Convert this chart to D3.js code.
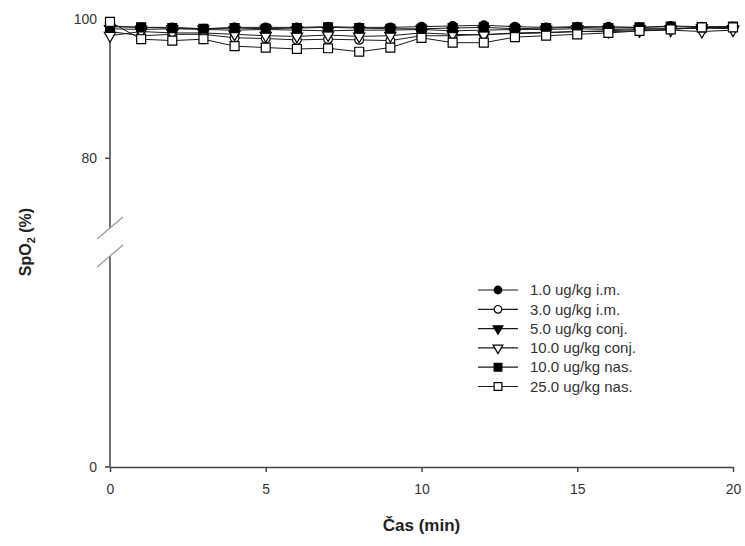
<!DOCTYPE html>
<html>
<head>
<meta charset="utf-8">
<script src="https://cdn.jsdelivr.net/npm/d3@7"></script>
<style>
  body { margin: 0; background: #fff; }
  svg { font-family: "Liberation Sans", Arial, sans-serif; }
</style>
</head>
<body>
<svg id="drawing_region"></svg>
<script>
// minutes
const times = d3.range(0, 21);

const seriesNames = ["1.0 ug/kg i.m.", "3.0 ug/kg i.m.", "5.0 ug/kg conj.",
                     "10.0 ug/kg conj.", "10.0 ug/kg nas.", "25.0 ug/kg nas."];

const im1    = [99.0, 98.8, 98.8, 98.6, 98.8, 98.8, 98.8, 98.9, 98.8, 98.8, 98.9, 99.0, 99.1, 98.9, 98.8, 98.9, 98.9, 98.8, 99.0, 98.9, 98.9];
const im3    = [98.2, 97.6, 97.8, 97.8, 97.3, 97.2, 97.0, 97.1, 97.0, 96.9, 97.6, 97.6, 97.8, 97.9, 98.0, 98.2, 98.3, 98.5, 98.6, 98.7, 98.8];
const conj5  = [98.6, 98.5, 98.6, 98.5, 98.4, 98.5, 98.4, 98.3, 98.4, 98.4, 98.5, 98.3, 98.4, 98.5, 98.5, 98.6, 98.5, 98.6, 98.6, 98.7, 98.6];
const conj10 = [97.6, 98.2, 98.0, 98.0, 97.8, 97.6, 97.5, 97.7, 97.5, 97.6, 98.0, 97.8, 97.7, 98.0, 98.1, 98.2, 98.2, 98.3, 98.4, 98.2, 98.4];
const nas10  = [98.9, 98.8, 98.7, 98.6, 98.7, 98.6, 98.7, 98.8, 98.7, 98.6, 98.6, 98.7, 98.8, 98.6, 98.7, 98.8, 98.7, 98.8, 98.9, 98.8, 98.9];
const nas25  = [99.6, 97.1, 96.9, 97.1, 96.1, 95.9, 95.7, 95.8, 95.3, 95.9, 97.3, 96.6, 96.6, 97.4, 97.6, 97.8, 98.0, 98.3, 98.5, 98.8, 98.8];

const xTicks = [0, 5, 10, 15, 20];
const yTicks = [0, 80, 100];

const seriesValues = [im1, im3, conj5, conj10, nas10, nas25];
const markers = [
    {shape: d3.symbolCircle,   fill: "#000", rot: 0},
    {shape: d3.symbolCircle,   fill: "#fff", rot: 0},
    {shape: d3.symbolTriangle, fill: "#000", rot: 180},
    {shape: d3.symbolTriangle, fill: "#fff", rot: 180},
    {shape: d3.symbolSquare,   fill: "#000", rot: 0},
    {shape: d3.symbolSquare,   fill: "#fff", rot: 0}
];
const symSize = [60, 60, 55, 55, 80, 80];
const legSize = [45, 45, 42, 42, 60, 60];

const width = 745, height = 546;
const svg = d3.select('#drawing_region')
    .attr('width', width)
    .attr('height', height);

const x0 = 110, x1 = 733;
const yBottom = 467, yTop = 19;
const lowTop = 256, highBottom = 228;   // broken axis ends

const xscale = d3.scaleLinear().domain([0, 20]).range([x0, x1]);
// broken scale: 0..50 lower part, 70..100 upper part
const yscale = d3.scaleLinear()
    .domain([0, 50, 70, 100])
    .range([yBottom, lowTop, highBottom, yTop]);

const axisColor = "#444";
const textColor = "#333";

// x axis
const xaxis = d3.axisBottom(xscale).tickValues(xTicks).tickSize(5).tickPadding(12).tickSizeOuter(0);
const xg = svg.append('g')
    .attr('transform', `translate(0, ${yBottom})`)
    .call(xaxis);
xg.select('.domain').attr('stroke', axisColor).attr('stroke-width', 1.5);
xg.selectAll('.tick line').attr('stroke', axisColor).attr('stroke-width', 1.5);
xg.selectAll('.tick text').attr('fill', textColor).attr('font-size', 14)
    .attr('font-family', '"Liberation Sans", Arial, sans-serif');

// y axis, drawn in two pieces
const yg = svg.append('g').attr('transform', `translate(${x0}, 0)`);
yg.append('line').attr('x1', 0).attr('x2', 0).attr('y1', yTop).attr('y2', highBottom)
    .attr('stroke', axisColor).attr('stroke-width', 1.5);
yg.append('line').attr('x1', 0).attr('x2', 0).attr('y1', lowTop).attr('y2', yBottom)
    .attr('stroke', axisColor).attr('stroke-width', 1.5);
const ytick = yg.selectAll('.ytick').data(yTicks).enter().append('g')
    .attr('transform', d => `translate(0, ${yscale(d)})`);
ytick.append('line').attr('x1', -5).attr('x2', 0)
    .attr('stroke', axisColor).attr('stroke-width', 1.5);
ytick.append('text')
    .attr('x', -13).attr('dy', '0.35em')
    .attr('text-anchor', 'end')
    .attr('font-size', 14).attr('fill', textColor)
    .text(d => d);

// break marks
[highBottom, lowTop].forEach(yy => {
    yg.append('line')
        .attr('x1', -13).attr('y1', yy + 11)
        .attr('x2', 13).attr('y2', yy - 11)
        .attr('stroke', "#999").attr('stroke-width', 1.2);
});

// lines and markers
const line = d3.line()
    .x((d, i) => xscale(times[i]))
    .y(d => yscale(d));

const plot = svg.append('g');
seriesValues.forEach((vals, k) => {
    plot.append('path')
        .attr('d', line(vals))
        .attr('fill', 'none')
        .attr('stroke', '#1a1a1a')
        .attr('stroke-width', 1);
});
seriesValues.forEach((vals, k) => {
    const m = markers[k];
    plot.selectAll(null).data(vals).enter().append('path')
        .attr('d', d3.symbol().type(m.shape).size(symSize[k]))
        .attr('transform', (d, i) => `translate(${xscale(times[i])}, ${yscale(d)}) rotate(${m.rot})`)
        .attr('fill', m.fill)
        .attr('stroke', '#000')
        .attr('stroke-width', 1.2);
});

// legend
const legend = svg.append('g').attr('transform', 'translate(478, 290)');
const rows = legend.selectAll('g').data(seriesNames).enter().append('g')
    .attr('transform', (d, i) => `translate(0, ${i * 19.3})`);
rows.append('line').attr('x1', 0).attr('x2', 40)
    .attr('stroke', '#1a1a1a').attr('stroke-width', 1.2);
rows.append('path')
    .attr('d', (d, i) => d3.symbol().type(markers[i].shape).size(legSize[i])())
    .attr('transform', (d, i) => `translate(20, 0) rotate(${markers[i].rot})`)
    .attr('fill', (d, i) => markers[i].fill)
    .attr('stroke', '#000').attr('stroke-width', 1.2);
rows.append('text')
    .attr('x', 52).attr('dy', '0.35em')
    .attr('font-size', 15).attr('fill', textColor)
    .text(d => d);

// axis titles
svg.append('text')
    .attr('x', (x0 + x1) / 2).attr('y', 531)
    .attr('text-anchor', 'middle')
    .attr('font-size', 17).attr('font-weight', 'bold').attr('fill', '#222')
    .text('Čas (min)');

const ytitle = svg.append('text')
    .attr('transform', 'translate(31, 242) rotate(-90)')
    .attr('text-anchor', 'middle')
    .attr('font-size', 16).attr('font-weight', 'bold').attr('fill', '#222');
ytitle.append('tspan').text('SpO');
ytitle.append('tspan').attr('font-size', 11).attr('dy', 4).text('2');
ytitle.append('tspan').attr('dy', -4).text(' (%)');
</script>
</body>
</html>
